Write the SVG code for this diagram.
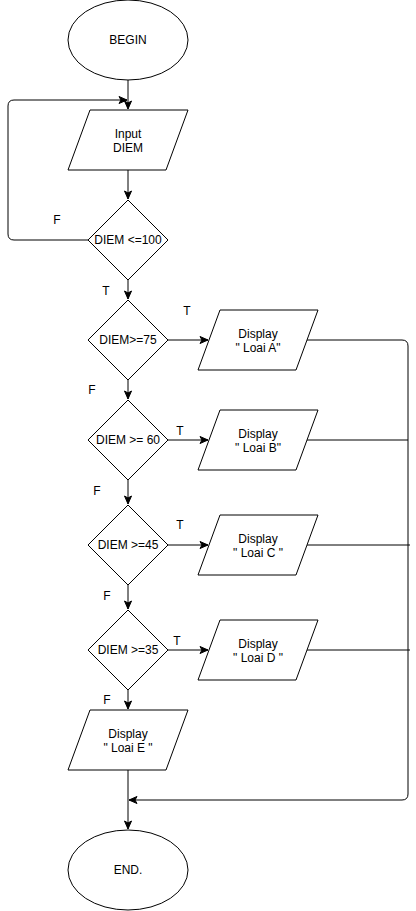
<svg xmlns="http://www.w3.org/2000/svg" width="416" height="911" viewBox="0 0 416 911">
<defs>
<style>
.shape{fill:#fff;stroke:#000;stroke-width:1}
.edge{fill:none;stroke:#000;stroke-width:1}
text{font-family:"Liberation Sans",Arial,sans-serif;font-size:12px;fill:#000;text-anchor:middle}
</style>
<marker id="arr" markerUnits="userSpaceOnUse" markerWidth="10" markerHeight="10" viewBox="0 0 10 10" refX="9" refY="5" orient="auto">
<path d="M1,1.5 L9,5 L1,8.5 L3,5 Z" fill="#000" stroke="#000" stroke-width="1"/>
</marker>
</defs>
<rect width="416" height="911" fill="#fff"/>
<g id="connectors">
<path class="edge" d="M128,80 L128,109" marker-end="url(#arr)"/>
<path class="edge" d="M88,240 L14,240 Q8,240 8,234 L8,106 Q8,100 14,100 L127,100" marker-end="url(#arr)"/>
<path class="edge" d="M128,170 L128,199" marker-end="url(#arr)"/>
<path class="edge" d="M128,280 L128,299" marker-end="url(#arr)"/>
<path class="edge" d="M168,340 L208,340" marker-end="url(#arr)"/>
<path class="edge" d="M128,380 L128,399" marker-end="url(#arr)"/>
<path class="edge" d="M168,440 L208,440" marker-end="url(#arr)"/>
<path class="edge" d="M128,480 L128,504" marker-end="url(#arr)"/>
<path class="edge" d="M168,545 L208,545" marker-end="url(#arr)"/>
<path class="edge" d="M128,585 L128,609" marker-end="url(#arr)"/>
<path class="edge" d="M168,650 L208,650" marker-end="url(#arr)"/>
<path class="edge" d="M128,690 L128,709" marker-end="url(#arr)"/>
<path class="edge" d="M128,770 L128,829" marker-end="url(#arr)"/>
<path class="edge" d="M307,340 L402,340 Q408,340 408,346 L408,794 Q408,800 402,800 L129,800" marker-end="url(#arr)"/>
<path class="edge" d="M307,440 L408,440"/>
<path class="edge" d="M307,545 L410,545"/>
<path class="edge" d="M307,650 L410,650"/>
<text x="57" y="224">F</text>
<text x="106" y="295">T</text>
<text x="187" y="315">T</text>
<text x="92" y="394">F</text>
<text x="180" y="435">T</text>
<text x="97" y="495">F</text>
<text x="180" y="529">T</text>
<text x="107" y="600">F</text>
<text x="177" y="645">T</text>
<text x="107" y="704">F</text>
</g>
<g id="begin">
<ellipse class="shape" cx="128" cy="40" rx="60" ry="40"/>
<text x="128" y="44">BEGIN</text>
</g>
<g id="input">
<polygon class="shape" points="90,110 188,110 166,170 68,170"/>
<text x="128" y="138">Input</text>
<text x="128" y="152">DIEM</text>
</g>
<g id="cond100">
<polygon class="shape" points="128,200 168,240 128,280 88,240"/>
<text x="128" y="244">DIEM &lt;=100</text>
</g>
<g id="cond75">
<polygon class="shape" points="128,300 168,340 128,380 88,340"/>
<text x="128" y="344">DIEM&gt;=75</text>
</g>
<g id="dispA">
<polygon class="shape" points="220,310 318,310 296,370 198,370"/>
<text x="258" y="338">Display</text>
<text x="258" y="352" xml:space="preserve">" Loai A"</text>
</g>
<g id="cond60">
<polygon class="shape" points="128,400 168,440 128,480 88,440"/>
<text x="128" y="444">DIEM &gt;= 60</text>
</g>
<g id="dispB">
<polygon class="shape" points="220,410 318,410 296,470 198,470"/>
<text x="258" y="438">Display</text>
<text x="258" y="452" xml:space="preserve">" Loai B"</text>
</g>
<g id="cond45">
<polygon class="shape" points="128,505 168,545 128,585 88,545"/>
<text x="128" y="549">DIEM &gt;=45</text>
</g>
<g id="dispC">
<polygon class="shape" points="220,515 318,515 296,575 198,575"/>
<text x="258" y="543">Display</text>
<text x="258" y="557" xml:space="preserve">" Loai C "</text>
</g>
<g id="cond35">
<polygon class="shape" points="128,610 168,650 128,690 88,650"/>
<text x="128" y="654">DIEM &gt;=35</text>
</g>
<g id="dispD">
<polygon class="shape" points="220,620 318,620 296,680 198,680"/>
<text x="258" y="648">Display</text>
<text x="258" y="662" xml:space="preserve">" Loai D "</text>
</g>
<g id="dispE">
<polygon class="shape" points="90,710 188,710 166,770 68,770"/>
<text x="128" y="738">Display</text>
<text x="128" y="752" xml:space="preserve">" Loai E "</text>
</g>
<g id="end">
<ellipse class="shape" cx="128" cy="870" rx="60" ry="40"/>
<text x="128" y="874">END.</text>
</g>
</svg>
